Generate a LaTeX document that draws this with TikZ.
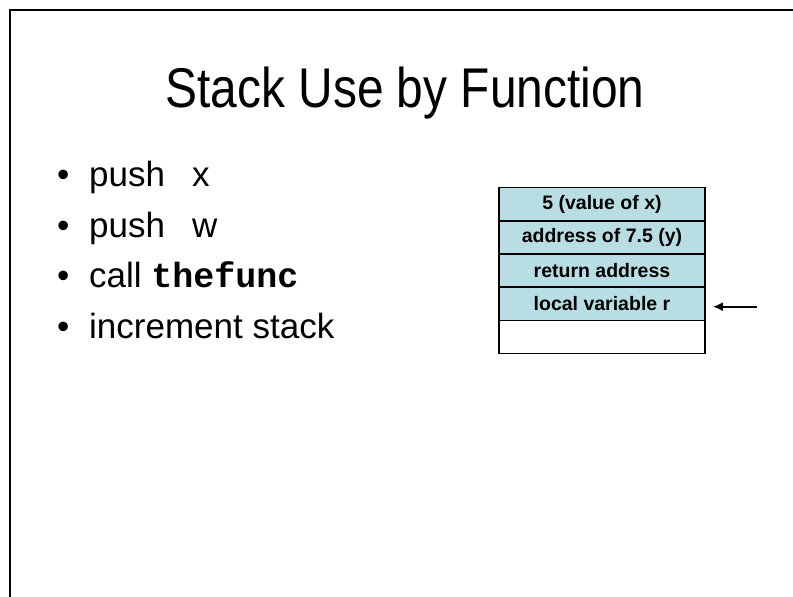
\documentclass[tikz,border=0pt]{standalone}
\usepackage{fontspec}
\setmainfont{Liberation Sans}
\setmonofont{Liberation Mono}
\newfontfamily\titlefont[FakeStretch=0.855]{Liberation Sans}
\usetikzlibrary{arrows.meta}
\definecolor{stackfill}{RGB}{184,222,227}
\begin{document}
\begin{tikzpicture}[x=1pt,y=-1pt,
  frameline/.style={line width=2.5pt,black,line join=miter},
  slidetitle/.style={font=\titlefont\fontsize{56}{60}\selectfont,anchor=base,inner sep=0pt},
  item/.style={font=\fontsize{35}{40}\selectfont,anchor=base west,inner sep=0pt},
  cell/.style={draw=black,line width=1.6pt,fill=stackfill,minimum width=206pt,
    minimum height=33.2pt,inner sep=0pt,font=\bfseries\fontsize{19.5}{21}\selectfont},
  emptycell/.style={cell,fill=white},
  pointer/.style={line width=2pt,-{Latex[length=10pt,width=9pt]}}]
\useasboundingbox (0,0) rectangle (793,597);
\fill[white] (0,0) rectangle (793,597);
% slide frame: left and top edges
\draw[frameline] (10,597) -- (10,10) -- (793,10);

% title
\node[slidetitle] (title) at (405,107) {Stack Use by Function};

% bullet list
\node[item] (i1) at (57,186) {\makebox[32pt][l]{•}push\hspace{27pt}x};
\node[item] (i2) at (57,237) {\makebox[32pt][l]{•}push\hspace{27pt}w};
\node[item] (i3) at (57,287) {\makebox[32pt][l]{•}call {\ttfamily\bfseries thefunc}};
\node[item] (i4) at (57,338) {\makebox[32pt][l]{•}increment stack};

% stack cells
\node[cell] (s1) at (602,204.1) {5 (value of x)};
\node[cell] (s2) at (602,237.3) {address of 7.5 (y)};
\node[cell] (s3) at (602,270.5) {return address};
\node[cell] (s4) at (602,303.7) {local variable r};
\node[emptycell] (s5) at (602,336.9) {};

% stack pointer
\coordinate (ptr) at (757,306.7);
\draw[pointer] (ptr) -- ([xshift=7pt]ptr -| s4.east);
\end{tikzpicture}
\end{document}
